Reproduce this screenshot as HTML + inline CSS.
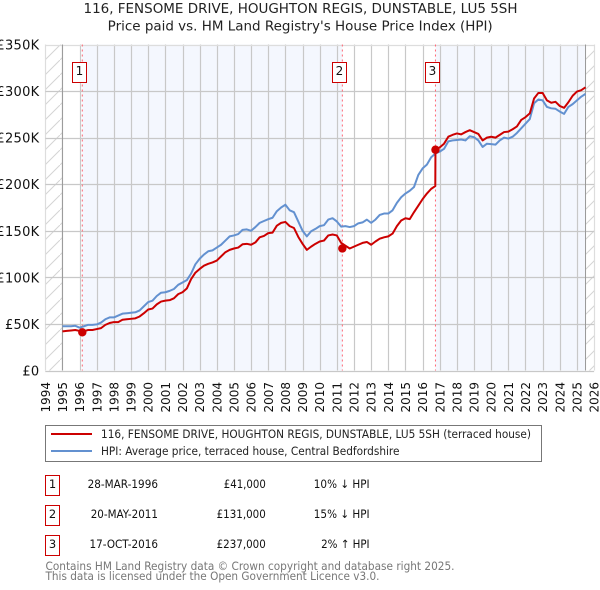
<!DOCTYPE html>
<html lang="en">
<head>
<meta charset="utf-8">
<title>116, Fensome Drive price paid vs HPI</title>
<style>
html,body{margin:0;padding:0;background:#fff;}
body{width:600px;height:590px;overflow:hidden;}
svg{display:block;font-family:"DejaVu Sans","Liberation Sans",sans-serif;}
</style>
</head>
<body>
<svg id="chart" width="600" height="590" viewBox="0 0 600 590">
  <defs>
    <pattern id="hatch" width="15" height="15" patternUnits="userSpaceOnUse" patternTransform="translate(45 0)">
      <path d="M0 15 L15 0" stroke="#d4d4d4" stroke-width="1" fill="none"/>
    </pattern>
  </defs>
  <text x="83.5" y="13" font-size="13" fill="#222" textLength="434" lengthAdjust="spacingAndGlyphs">116, FENSOME DRIVE, HOUGHTON REGIS, DUNSTABLE, LU5 5SH</text>
  <text x="107.7" y="30.5" font-size="13" fill="#222" textLength="385" lengthAdjust="spacingAndGlyphs">Price paid vs. HM Land Registry's House Price Index (HPI)</text>
  <g id="plot"></g>

  <g>
    <rect x="45.5" y="425.5" width="496" height="36" fill="#fff" stroke="#777"/>
    <g>
      <line x1="51" x2="92" y1="434" y2="434" stroke="#cc0000" stroke-width="2"/>
      <text x="101" y="438" font-size="11.5" fill="#222" textLength="430" lengthAdjust="spacingAndGlyphs">116, FENSOME DRIVE, HOUGHTON REGIS, DUNSTABLE, LU5 5SH (terraced house)</text>
    </g>
    <g>
      <line x1="51" x2="92" y1="451" y2="451" stroke="#6391d0" stroke-width="2"/>
      <text x="101" y="455" font-size="11.5" fill="#222" textLength="298.5" lengthAdjust="spacingAndGlyphs">HPI: Average price, terraced house, Central Bedfordshire</text>
    </g>
  </g>

  <g font-size="11.5" fill="#111">
    <g>
      <rect x="45.5" y="475.5" width="14" height="20" fill="#fff" stroke="#cc0000"/>
      <text x="52.5" y="488" text-anchor="middle">1</text>
      <text x="87.6" y="488" textLength="70.4" lengthAdjust="spacingAndGlyphs">28-MAR-1996</text>
      <text x="223.8" y="488" textLength="42" lengthAdjust="spacingAndGlyphs">£41,000</text>
      <text x="313.8" y="488" textLength="55.8" lengthAdjust="spacingAndGlyphs">10% ↓ HPI</text>
    </g>
    <g>
      <rect x="45.5" y="505.5" width="14" height="20" fill="#fff" stroke="#cc0000"/>
      <text x="52.5" y="518" text-anchor="middle">2</text>
      <text x="90.7" y="518" textLength="67.3" lengthAdjust="spacingAndGlyphs">20-MAY-2011</text>
      <text x="216.6" y="518" textLength="49.2" lengthAdjust="spacingAndGlyphs">£131,000</text>
      <text x="313.8" y="518" textLength="55.8" lengthAdjust="spacingAndGlyphs">15% ↓ HPI</text>
    </g>
    <g>
      <rect x="45.5" y="535.5" width="14" height="20" fill="#fff" stroke="#cc0000"/>
      <text x="52.5" y="548" text-anchor="middle">3</text>
      <text x="89.5" y="548" textLength="68.5" lengthAdjust="spacingAndGlyphs">17-OCT-2016</text>
      <text x="216.6" y="548" textLength="49.2" lengthAdjust="spacingAndGlyphs">£237,000</text>
      <text x="321.1" y="548" textLength="48.5" lengthAdjust="spacingAndGlyphs">2% ↑ HPI</text>
    </g>
  </g>

  <g font-size="11.5" fill="#777">
    <text x="45.5" y="570" textLength="409" lengthAdjust="spacingAndGlyphs">Contains HM Land Registry data © Crown copyright and database right 2025.</text>
    <text x="45.5" y="580" textLength="334" lengthAdjust="spacingAndGlyphs">This data is licensed under the Open Government Licence v3.0.</text>
  </g>
</svg>
<script>
const yearTicks = [1994,1995,1996,1997,1998,1999,2000,2001,2002,2003,2004,2005,2006,2007,2008,2009,2010,2011,2012,2013,2014,2015,2016,2017,2018,2019,2020,2021,2022,2023,2024,2025,2026];
const valueTicks = [0,50,100,150,200,250,300,350];
const valueTickLabels = ["£0","£50K","£100K","£150K","£200K","£250K","£300K","£350K"];

const hpiDates = [
1995,1995.25,1995.5,1995.75,1996,1996.25,1996.5,1996.75,1997,1997.25,1997.5,1997.75,
1998,1998.25,1998.5,1998.75,1999,1999.25,1999.5,1999.75,2000,2000.25,2000.5,2000.75,
2001,2001.25,2001.5,2001.75,2002,2002.25,2002.5,2002.75,2003,2003.25,2003.5,2003.75,
2004,2004.25,2004.5,2004.75,2005,2005.25,2005.5,2005.75,2006,2006.25,2006.5,2006.75,
2007,2007.25,2007.5,2007.75,2008,2008.25,2008.5,2008.75,2009,2009.25,2009.5,2009.75,
2010,2010.25,2010.5,2010.75,2011,2011.25,2011.5,2011.75,2012,2012.25,2012.5,2012.75,
2013,2013.25,2013.5,2013.75,2014,2014.25,2014.5,2014.75,2015,2015.25,2015.5,2015.75,
2016,2016.25,2016.5,2016.75,2017,2017.25,2017.5,2017.75,2018,2018.25,2018.5,2018.75,
2019,2019.25,2019.5,2019.75,2020,2020.25,2020.5,2020.75,2021,2021.25,2021.5,2021.75,
2022,2022.25,2022.5,2022.75,2023,2023.25,2023.5,2023.75,2024,2024.25,2024.5,2024.75,
2025,2025.25,2025.5];
const hpiValues = [
47.5,47.5,47.5,48,46,47.5,49,49,49.5,51.5,55,57,
57,59,61,61.5,62,62.5,64.5,69,73.5,75,80,83.5,
84,85.5,87.5,92,94.5,97,104,114,120,124.5,128,129,
132,135,139.5,144,145,146.5,151,151.5,150,154,158.5,160.5,
162.5,164,171,175,178,172,170,160,150,144,149.5,152,
155,156,162,163.5,160,154.5,155,154,155,158,159,162,
158.5,162,167,168.5,168.5,172,180,186,190,193,197,210,
217,221,229,233,235,238,246,247,247.5,248,247,251.5,
250.5,247,240,243.5,243,242.5,247,250,249,251,255,260,
265,270,287,291,290,283,281.5,281,278,275.5,283,286,
290,294,297];

const paidDates = [
1995,1995.25,1995.5,1995.75,1996,1996.25,1996.5,1996.75,1997,1997.25,1997.5,1997.75,
1998,1998.25,1998.5,1998.75,1999,1999.25,1999.5,1999.75,2000,2000.25,2000.5,2000.75,
2001,2001.25,2001.5,2001.75,2002,2002.25,2002.5,2002.75,2003,2003.25,2003.5,2003.75,
2004,2004.25,2004.5,2004.75,2005,2005.25,2005.5,2005.75,2006,2006.25,2006.5,2006.75,
2007,2007.25,2007.5,2007.75,2008,2008.25,2008.5,2008.75,2009,2009.25,2009.5,2009.75,
2010,2010.25,2010.5,2010.75,2011,2011.25,2011.5,2011.75,2012,2012.25,2012.5,2012.75,
2013,2013.25,2013.5,2013.75,2014,2014.25,2014.5,2014.75,2015,2015.25,2015.5,2015.75,
2016,2016.25,2016.5,2016.74,2016.75,2017,2017.25,2017.5,2017.75,2018,2018.25,2018.5,2018.75,
2019,2019.25,2019.5,2019.75,2020,2020.25,2020.5,2020.75,2021,2021.25,2021.5,2021.75,
2022,2022.25,2022.5,2022.75,2023,2023.25,2023.5,2023.75,2024,2024.25,2024.5,2024.75,
2025,2025.25,2025.5];
const paidValues = [
42,42.5,43,43.5,42.5,42,43.5,43.5,44.5,45.5,49,51,
52,52,54.5,55,55.5,56,58,61.5,65.5,66.5,71,74,
75,75.5,77.5,82,84,88,98,105,109,112.5,114.5,116,
118,122.5,127,129.5,131,132,135.5,136,135,137.5,143,144.5,
147.5,148,155.5,158.5,159.5,155,153,143.5,136,129.5,133,136,
138.5,139.5,145,146,145,137,134,131,133,135,137,138,
135,138.5,141.5,143,144,147,155,161,163.5,162.5,170,177,
184,190,195,198,237,239.5,243.5,251,253,254.5,253.5,256,258,
256,254,247,250,251,250,253,256,256.5,259,262,269,
272,276,292,298,298,290,287.5,288.5,284,282,288,295,
299.5,301,304];

const saleDates = [1996.157,2011.32,2016.75];
const saleValues = [41,131,237];
const saleLabels = ["1","2","3"];

const SVGNS = "http://www.w3.org/2000/svg";
const plot = document.getElementById("plot");
function xScale(year){ return 45.3 + (year - 1994) * 17.15; }
function yScale(k){ return 370.5 - k * 0.9314; }
function make(tag, attrs, parent){
  const el = document.createElementNS(SVGNS, tag);
  for (const k in attrs) el.setAttribute(k, attrs[k]);
  (parent || plot).appendChild(el);
  return el;
}
function pathFrom(dates, values){
  return dates.map((d,i)=>(i?"L":"M")+xScale(d).toFixed(2)+" "+yScale(values[i]).toFixed(2)).join(" ");
}

const top_ = yScale(350), bottom = yScale(0), left = xScale(1994), right = xScale(2026);
const dataStart = xScale(1995), dataEnd = xScale(2025.5);

const bg = make("rect",{x:dataStart,y:top_,width:dataEnd-dataStart,height:bottom-top_,fill:"#ffffff"});



const band1 = make("rect",{x:xScale(saleDates[0]),y:top_,width:xScale(saleDates[1])-xScale(saleDates[0]),height:bottom-top_,fill:"#f4f7fe"});



const band2 = make("rect",{x:xScale(saleDates[2]),y:top_,width:dataEnd-xScale(saleDates[2]),height:bottom-top_,fill:"#f4f7fe"});



const hatchL = make("rect",{x:left,y:top_,width:dataStart-left,height:bottom-top_,fill:"url(#hatch)"});



const hatchR = make("rect",{x:dataEnd,y:top_,width:right-dataEnd,height:bottom-top_,fill:"url(#hatch)"});



yearTicks.forEach(function(y){
  const x = Math.round(xScale(y)) + 0.5;
  const g = make("line",{x1:x,x2:x,y1:top_,y2:bottom,stroke:(y===1994||y===2026)?"#dddddd":"#c8c8c8","stroke-width":1.2});
  
  
  const t = make("text",{x:0,y:0,"font-size":12,fill:"#111","text-anchor":"end",transform:"translate("+(xScale(y)+4.5)+" 382) rotate(-90)"});
  t.textContent = y;
  
  
});

valueTicks.forEach(function(v,i){
  const y = Math.round(yScale(v)) + 0.5;
  const g = make("line",{x1:left,x2:right,y1:y,y2:y,stroke:(v===350)?"#dddddd":"#c8c8c8","stroke-width":1.2});
  
  
  const t = make("text",{x:39.5,y:yScale(v)+5,"font-size":13,"letter-spacing":"0.3",fill:"#111","text-anchor":"end"});
  t.textContent = valueTickLabels[i];
  
  
});

[dataStart,dataEnd].forEach(function(x){
  const l = make("line",{x1:x,x2:x,y1:top_,y2:bottom,stroke:"#999999","stroke-width":1});
  
  
});

saleDates.forEach(function(d){
  const x = xScale(d);
  const l = make("line",{x1:x,x2:x,y1:top_,y2:bottom,stroke:"#ff6673","stroke-width":1,"stroke-dasharray":"2 3"});
  
  
});

const hpiLine = make("path",{d:pathFrom(hpiDates,hpiValues),fill:"none",stroke:"#6391d0","stroke-width":2,"stroke-linejoin":"round"});



const paidLine = make("path",{d:pathFrom(paidDates,paidValues),fill:"none",stroke:"#cc0000","stroke-width":2,"stroke-linejoin":"round"});



saleDates.forEach(function(d,i){
  const c = make("circle",{cx:xScale(d),cy:yScale(saleValues[i]),r:4.2,fill:"#cc0000"});
  
  
  const x = xScale(d) - 3;
  const box = make("rect",{x:Math.round(x-7)+0.5,y:62.5,width:14,height:20,fill:"#fff",stroke:"#cc0000","stroke-width":1});
  
  
  const t = make("text",{x:Math.round(x-7)+7.5,y:75,"text-anchor":"middle","font-size":12,fill:"#111"});
  t.textContent = saleLabels[i];
  
  
});
</script>
</body>
</html>
